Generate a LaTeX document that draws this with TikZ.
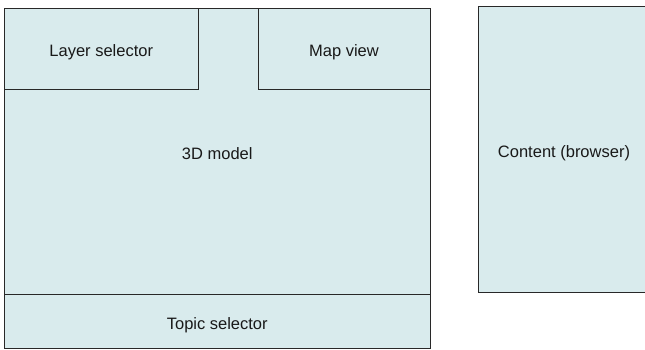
\documentclass[tikz,border=0pt]{standalone}
\usepackage{fontspec}
\setmainfont{Liberation Sans}
\definecolor{panelfill}{RGB}{217,235,237}
\definecolor{panelline}{RGB}{40,40,40}
\begin{document}
\begin{tikzpicture}[x=1pt,y=-1pt,
  panel/.style={draw=panelline, fill=panelfill, line width=1pt,
    inner sep=0pt, outer sep=0pt, anchor=north west,
    text height=16pt, text depth=0pt,
    font=\fontsize{16.5}{18}\selectfont, text=black!90}]
  \clip (0,0) rectangle (645,349);
  \fill[white] (0,0) rectangle (645,349);
  % main window: 3D view with the panels laid over it
  \node[panel, minimum width=425.5pt, minimum height=286pt] (model) at (4.5,8) {3D model};
  \node[panel, minimum width=193.5pt, minimum height=81pt] (layers) at (4.5,8) {Layer selector};
  \node[panel, minimum width=172pt, minimum height=81pt] (map) at (258,8) {Map view};
  \node[panel, minimum width=425.5pt, minimum height=54pt] (topics) at (4.5,294) {Topic selector};
  % side browser, running off the right edge
  \node[panel, minimum width=172pt, minimum height=286pt] (content) at (478,6) {Content (browser)};
\end{tikzpicture}
\end{document}
